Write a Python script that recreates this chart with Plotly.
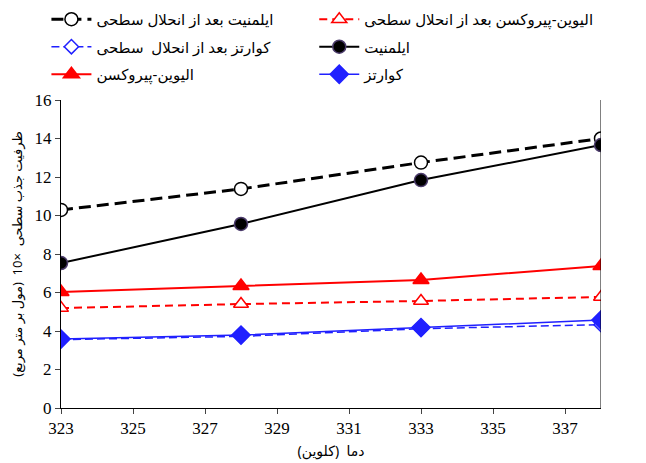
import plotly.graph_objects as go

temps = [323, 328, 333, 338]
ilmenite_after = [10.29, 11.38, 12.75, 14.0]
ilmenite = [7.53, 9.56, 11.84, 13.66]
olivine = [6.03, 6.34, 6.65, 7.38]
olivine_after = [5.19, 5.40, 5.56, 5.77]
quartz = [3.58, 3.79, 4.18, 4.57]
quartz_after = [3.55, 3.72, 4.12, 4.33]

names = {
    "ilm_a": "ایلمنیت بعد از انحلال سطحی",
    "ilm": "ایلمنیت",
    "oli": "الیوین-پیروکسن",
    "oli_a": "الیوین-پیروکسن بعد از انحلال سطحی",
    "qz": "کوارتز",
    "qz_a": "کوارتز بعد از انحلال  سطحی",
}
x_ticks = [323, 325, 327, 329, 331, 333, 335, 337]
y_ticks = [0, 2, 4, 6, 8, 10, 12, 14, 16]

fig = go.Figure()

def add(y, name, color, dash, symbol, width, size, legend, fill=None, edge=None):
    fig.add_trace(go.Scatter(
        x=temps, y=y, name=name, mode="lines+markers",
        line=dict(color=color, dash=dash, width=width),
        marker=dict(symbol=symbol, size=size, color=fill if fill else color,
                    line=dict(color=edge if edge else color, width=1.5)),
        legend=legend, legendgroup=name,
    ))

# left legend column
add(ilmenite_after, names["ilm_a"], "black", "12px,6px", "circle", 3, 13, "legend", "white")
add(quartz_after, names["qz_a"], "#2020ff", "8px,4px", "diamond", 1.5, 11, "legend", "white")
add(olivine, names["oli"], "red", "solid", "triangle-up", 2, 14, "legend")
# right legend column
add(olivine_after, names["oli_a"], "red", "8px,5px", "triangle-up", 2, 13, "legend2", "white")
add(ilmenite, names["ilm"], "black", "solid", "circle", 2, 13, "legend2", edge="#4b3b6b")
add(quartz, names["qz"], "#2020ff", "solid", "diamond", 1.5, 14, "legend2")

num_font = "'Liberation Serif', 'Times New Roman', serif"
fa_font = "'Noto Sans', 'DejaVu Sans', sans-serif"
legend_common = dict(
    orientation="v", xref="paper", yref="paper", yanchor="top", xanchor="left",
    font=dict(size=15, family=fa_font, color="black"), bgcolor="rgba(0,0,0,0)",
    tracegroupgap=5, itemwidth=40,
)
fig.update_layout(
    width=646, height=463,
    margin=dict(l=53, r=53, t=92, b=63, autoexpand=False),
    plot_bgcolor="white", paper_bgcolor="white",
    font=dict(family=num_font, color="black", size=15),
    showlegend=True,
    legend=dict(x=-0.027, y=1.315, **legend_common),
    legend2=dict(x=0.469, y=1.315, **legend_common),
    xaxis=dict(range=[323, 338], tickvals=x_ticks, ticks="outside", ticklen=5,
               showline=True, linecolor="black", linewidth=1, mirror=False,
               showgrid=False, zeroline=False,
               tickfont=dict(size=17, family=num_font),
               title=dict(text="دما  (کلوین)", font=dict(size=14, family=fa_font), standoff=8)),
    yaxis=dict(range=[0, 16], tickvals=y_ticks, ticks="outside", ticklen=5,
               showline=True, linecolor="black", linewidth=1,
               showgrid=False, zeroline=False,
               tickfont=dict(size=17, family=num_font),
               title=dict(text="ظرفیت جذب سطحی  ×10  (مول بر متر مربع)",
                          font=dict(size=13, family=fa_font), standoff=14)),
)
fig.add_shape(type="line", xref="x", yref="y", x0=338, x1=338, y0=0, y1=16,
              line=dict(color="black", width=1))

fig.write_html("out.html")
